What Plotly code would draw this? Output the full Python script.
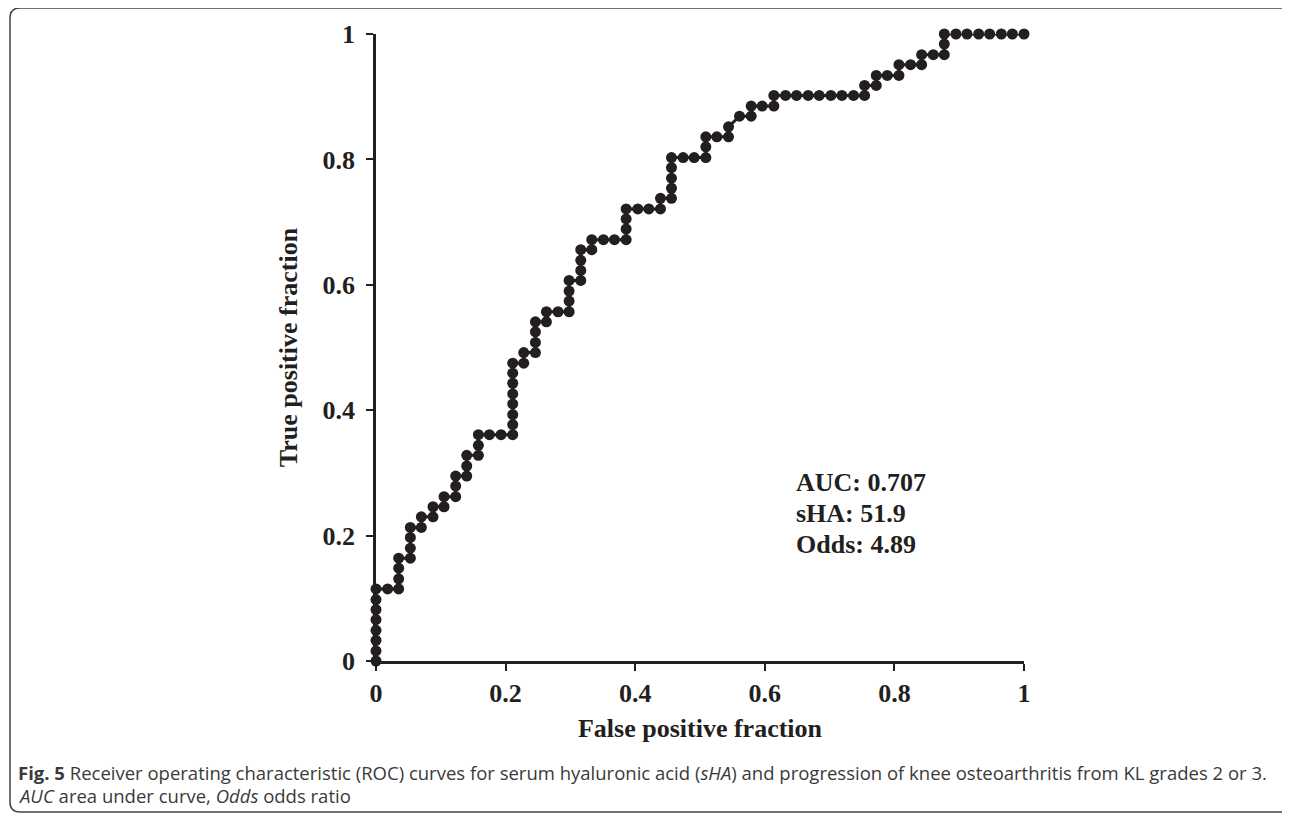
import plotly.graph_objects as go

# ROC curve points (false positive fraction, true positive fraction)
fpr = [0, 0, 0, 0, 0, 0, 0, 0,
       0.018,
       0.035, 0.035, 0.035, 0.035,
       0.053, 0.053, 0.053, 0.053,
       0.070, 0.070, 0.088, 0.088, 0.105, 0.105,
       0.123, 0.123, 0.123, 0.140, 0.140, 0.140, 0.158, 0.158, 0.158,
       0.175, 0.193,
       0.211, 0.211, 0.211, 0.211, 0.211, 0.211, 0.211, 0.211,
       0.228, 0.228, 0.246, 0.246, 0.246, 0.246, 0.263, 0.263, 0.281,
       0.298, 0.298, 0.298, 0.298, 0.316, 0.316, 0.316, 0.316,
       0.333, 0.333, 0.351, 0.368, 0.386, 0.386, 0.386, 0.386, 0.404, 0.421, 0.439, 0.439,
       0.456, 0.456, 0.456, 0.456, 0.456, 0.474, 0.491, 0.509, 0.509, 0.509, 0.526,
       0.544, 0.544, 0.561, 0.579, 0.579, 0.596, 0.614, 0.614,
       0.632, 0.649, 0.667, 0.684, 0.702, 0.719, 0.737, 0.754, 0.754,
       0.772, 0.772, 0.789, 0.807, 0.807, 0.825, 0.842, 0.842, 0.860, 0.877, 0.877, 0.877,
       0.895, 0.912, 0.930, 0.947, 0.965, 0.982, 1.0]

tpr = [0, 0.016, 0.033, 0.049, 0.066, 0.082, 0.098, 0.115,
       0.115,
       0.115, 0.131, 0.148, 0.164,
       0.164, 0.180, 0.197, 0.213,
       0.213, 0.230, 0.230, 0.246, 0.246, 0.262,
       0.262, 0.279, 0.295, 0.295, 0.311, 0.328, 0.328, 0.344, 0.361,
       0.361, 0.361,
       0.361, 0.377, 0.393, 0.410, 0.426, 0.443, 0.459, 0.475,
       0.475, 0.492, 0.492, 0.508, 0.525, 0.541, 0.541, 0.557, 0.557,
       0.557, 0.574, 0.590, 0.607, 0.607, 0.623, 0.639, 0.656,
       0.656, 0.672, 0.672, 0.672, 0.672, 0.689, 0.705, 0.721, 0.721, 0.721, 0.721, 0.738,
       0.738, 0.754, 0.770, 0.787, 0.803, 0.803, 0.803, 0.803, 0.820, 0.836, 0.836,
       0.836, 0.852, 0.869, 0.869, 0.885, 0.885, 0.885, 0.902,
       0.902, 0.902, 0.902, 0.902, 0.902, 0.902, 0.902, 0.902, 0.918,
       0.918, 0.934, 0.934, 0.934, 0.951, 0.951, 0.951, 0.967, 0.967, 0.967, 0.984, 1.0,
       1.0, 1.0, 1.0, 1.0, 1.0, 1.0, 1.0]

tick_vals = [0, 0.2, 0.4, 0.6, 0.8, 1]
tick_text = ["0", "0.2", "0.4", "0.6", "0.8", "1"]

stats_lines = ["AUC: 0.707", "sHA: 51.9", "Odds: 4.89"]

caption_1 = ("<b>Fig. 5</b> Receiver operating characteristic (ROC) curves for serum hyaluronic acid "
             "(<i>sHA</i>) and progression of knee osteoarthritis from KL grades 2 or 3.")
caption_2 = "<i>AUC</i> area under curve, <i>Odds</i> odds ratio"

# the page adds an 8px body margin; lay out in target-screen pixels minus that offset
OFF = 8
W, H = 1290, 814
PLOT_L, PLOT_R, PLOT_T, PLOT_B = 376 - OFF, 1024 - OFF, 34 - OFF, 661 - OFF
L, R, T, B = PLOT_L, W - PLOT_R, PLOT_T, H - PLOT_B
PW, PH = PLOT_R - PLOT_L, PLOT_B - PLOT_T

def px(x):
    return (x - OFF - PLOT_L) / PW

def py(y):
    return (PLOT_B - (y - OFF)) / PH

INK = "#231f20"
SERIF = "Liberation Serif"

fig = go.Figure()
fig.add_trace(go.Scatter(
    x=fpr, y=tpr, mode="lines+markers",
    line=dict(color=INK, width=3),
    marker=dict(color=INK, size=11),
    cliponaxis=False, showlegend=False, hoverinfo="x+y"))

axis_common = dict(
    range=[0, 1], showline=True, linecolor=INK, linewidth=2.5,
    ticks="outside", ticklen=7, tickwidth=2, tickcolor=INK,
    tickvals=tick_vals, ticktext=tick_text,
    tickfont=dict(family=SERIF, size=26, color=INK, weight="bold"),
    showgrid=False, zeroline=False, fixedrange=True)

fig.update_xaxes(**axis_common,
                 title=dict(text="False positive fraction", standoff=12,
                            font=dict(family=SERIF, size=26, color=INK, weight="bold")))
fig.update_yaxes(**axis_common, ticklabelstandoff=6,
                 title=dict(text="True positive fraction", standoff=18,
                            font=dict(family=SERIF, size=26, color=INK, weight="bold")))

annotations = []
for k, line in enumerate(stats_lines):
    annotations.append(dict(
        text=line, xref="paper", yref="paper", x=px(794), y=py(483 + 30.5 * k),
        xanchor="left", yanchor="middle", showarrow=False,
        font=dict(family=SERIF, size=26, color=INK, weight="bold")))

cap_font = dict(family="Open Sans", size=18.5, color="#3a3a3a")
annotations.append(dict(text=caption_1, xref="paper", yref="paper", x=px(16), y=py(772),
                        xanchor="left", yanchor="middle", showarrow=False, font=cap_font))
annotations.append(dict(text=caption_2, xref="paper", yref="paper", x=px(16), y=py(795),
                        xanchor="left", yanchor="middle", showarrow=False, font=cap_font))

# rounded frame around the figure (screen pixel geometry converted to paper coords)
fl, ft, fr, fb, rad = 10, 8, 1291, 812, 10
path = (f"M {px(fl + rad)},{py(ft)} L {px(fr - rad)},{py(ft)} "
        f"Q {px(fr)},{py(ft)} {px(fr)},{py(ft + rad)} "
        f"L {px(fr)},{py(fb - rad)} Q {px(fr)},{py(fb)} {px(fr - rad)},{py(fb)} "
        f"L {px(fl + rad)},{py(fb)} Q {px(fl)},{py(fb)} {px(fl)},{py(fb - rad)} "
        f"L {px(fl)},{py(ft + rad)} Q {px(fl)},{py(ft)} {px(fl + rad)},{py(ft)} Z")

fig.update_layout(
    width=W, height=H, margin=dict(l=L, r=R, t=T, b=B, autoexpand=False),
    paper_bgcolor="white", plot_bgcolor="white",
    annotations=annotations,
    shapes=[dict(type="path", path=path, xref="paper", yref="paper",
                 line=dict(color="#444444", width=1.5), layer="below")])

fig.write_html("out.html")
